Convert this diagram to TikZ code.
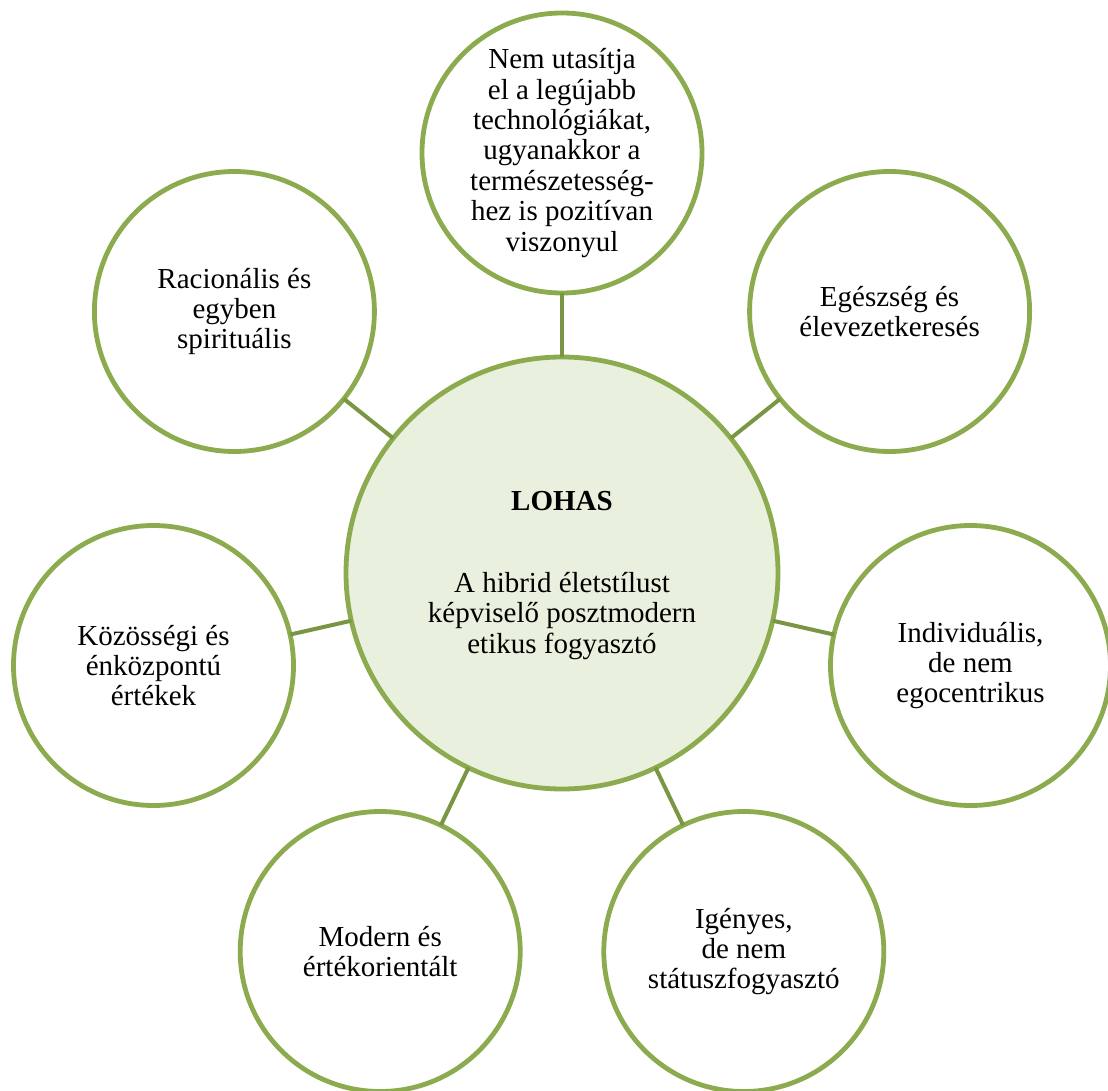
\documentclass[tikz,border=0pt]{standalone}
\usepackage{fontspec}
\setmainfont{Liberation Serif}
\definecolor{ringgreen}{RGB}{139,171,78}
\definecolor{linkgreen}{RGB}{122,150,66}
\definecolor{hubfill}{RGB}{234,240,222}
\tikzset{
  bub/.style={circle, draw=ringgreen, line width=4.8pt, fill=white, minimum size=280pt, inner sep=0pt, outer sep=0pt},
  hub/.style={circle, draw=ringgreen, line width=4.8pt, fill=hubfill, minimum size=432pt, inner sep=0pt, outer sep=0pt},
  txt/.style={align=center, inner sep=0pt, font=\fontsize{29}{30.4}\selectfont},
  link/.style={draw=linkgreen, line width=4pt}
}
\begin{document}
\begin{tikzpicture}[x=1pt,y=-1pt]
\useasboundingbox (0,0) rectangle (1108,1091);
\fill[white] (0,0) rectangle (1108,1091);
\node[hub] (c) at (562,573) {};
\node[bub] (o0) at (562,153) {};
\node[bub] (o1) at (234.4,311.5) {};
\node[bub] (o2) at (153.5,665.5) {};
\node[bub] (o3) at (380.2,951.5) {};
\node[bub] (o4) at (743.8,951.5) {};
\node[bub] (o5) at (970.5,665.5) {};
\node[bub] (o6) at (889.6,311.5) {};
\foreach \i in {0,...,6} {\draw[link] (c) -- (o\i);}
\node[txt] (t0) at (o0) {Nem utasítja\\el a legújabb\\technológiákat,\\ugyanakkor a\\természetesség-\\hez is pozitívan\\viszonyul};
\node[txt] (t1) at (o1) {Racionális és\\egyben\\spirituális};
\node[txt] (t2) at (o2) {Közösségi és\\énközpontú\\értékek};
\node[txt] (t3) at (o3) {Modern és\\értékorientált};
\node[txt] (t4) at (o4) {Igényes,\\de nem\\státuszfogyasztó};
\node[txt] (t5) at (o5) {Individuális,\\de nem\\egocentrikus};
\node[txt] (t6) at (o6) {Egészség és\\élevezetkeresés};
\node[txt, anchor=base, font=\fontsize{29}{30.4}\selectfont\bfseries] (tl) at (562,510) {LOHAS};
\node[txt] (tc) at (562,616) {A hibrid életstílust\\képviselő posztmodern\\etikus fogyasztó};
\end{tikzpicture}
\end{document}
